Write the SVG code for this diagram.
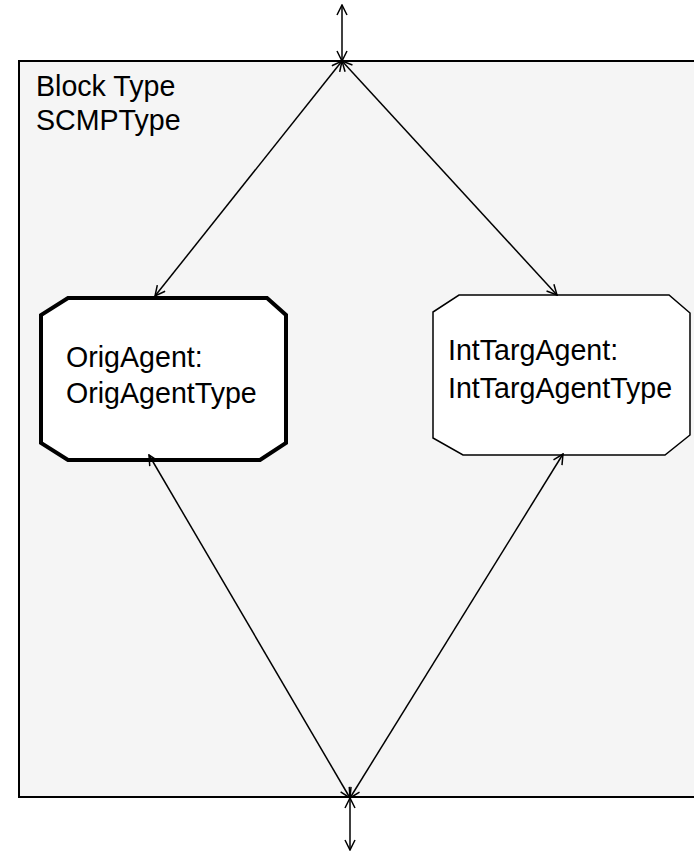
<svg xmlns="http://www.w3.org/2000/svg" width="694" height="853" viewBox="0 0 694 853">
  <style>
    .frame { fill: #f5f5f5; stroke: #000; stroke-width: 2; }
    .agent { fill: #fff; stroke: #000; }
    .label { font-family: "Liberation Sans", Arial, sans-serif; font-size: 28.6px; fill: #000; }
    .conn { stroke: #000; stroke-width: 1.5; fill: none; marker-start: url(#open); marker-end: url(#open); }
  </style>
  <defs>
    <marker id="open" viewBox="0 0 12 12" refX="11" refY="6" markerWidth="12" markerHeight="12" markerUnits="userSpaceOnUse" orient="auto-start-reverse">
      <path d="M1,1 L11,6 L1,11" fill="none" stroke="#000" stroke-width="1.5"/>
    </marker>
  </defs>
  <rect width="694" height="853" fill="#fff"/>

  <g id="block">
    <path class="frame" d="M700,61 L19,61 L19,797 L700,797"/>
    <text class="label" x="36" y="96">Block Type</text>
    <text class="label" x="36" y="130">SCMPType</text>
  </g>

  <g id="origAgent">
    <polygon class="agent" stroke-width="4" points="68,298 267,298 286,315 286,443 260,460 68,460 41,443 41,315"/>
    <text class="label" x="66" y="367">OrigAgent:</text>
    <text class="label" x="66" y="403">OrigAgentType</text>
  </g>

  <g id="intTargAgent">
    <polygon class="agent" stroke-width="1.5" points="459,295 669,295 690,313 690,435 665,455 463,455 433,438 433,312"/>
    <text class="label" x="448" y="360">IntTargAgent:</text>
    <text class="label" x="448" y="398">IntTargAgentType</text>
  </g>

  <g id="connectors">
    <line class="conn" x1="342" y1="61" x2="342" y2="5"/>
    <line class="conn" x1="342" y1="61" x2="155" y2="296"/>
    <line class="conn" x1="342" y1="61" x2="557" y2="295"/>
    <line class="conn" x1="350" y1="798" x2="149" y2="455"/>
    <line class="conn" x1="350" y1="798" x2="563" y2="454"/>
    <line class="conn" x1="350" y1="798" x2="350" y2="850"/>
  </g>
</svg>
